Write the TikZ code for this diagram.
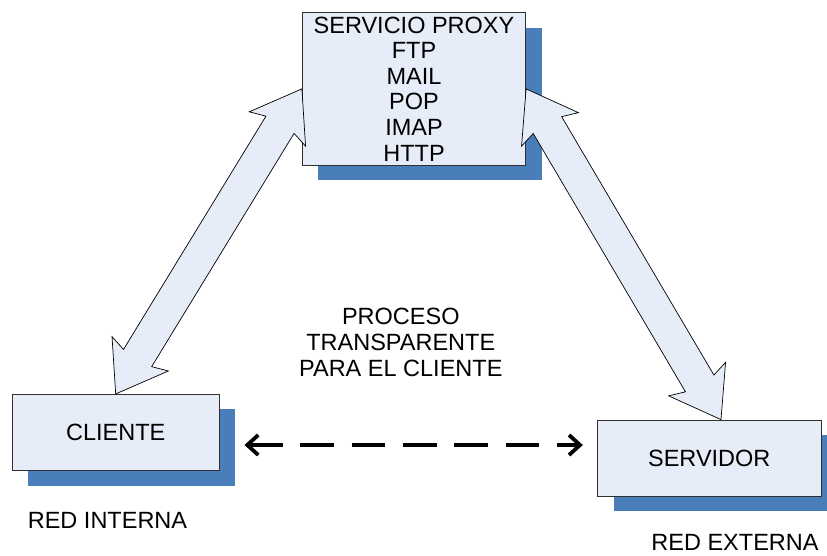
\documentclass[tikz,border=0pt]{standalone}
\usepackage{fontspec}
\setmainfont{Liberation Sans}
\usetikzlibrary{calc,shadows,arrows.meta}

\definecolor{boxfill}{HTML}{E7EDF8}
\definecolor{shadowblue}{HTML}{4A7EBB}
\definecolor{edgegray}{HTML}{303030}

\newcommand\labelfont{\fontsize{23.5}{25.6}\selectfont}

% Wide two-headed block arrow between two points
\newcommand\twowayblock[2]{%
  \coordinate (hA) at ($(#1)!47pt!(#2)$);
  \coordinate (nA) at ($(#1)!42pt!(#2)$);
  \coordinate (hB) at ($(#2)!47pt!(#1)$);
  \coordinate (nB) at ($(#2)!42pt!(#1)$);
  \draw[blockarrow] (#1)
    -- ($(hA)!33pt!90:(#2)$) -- ($(nA)!16.5pt!90:(#2)$)
    -- ($(nB)!16.5pt!-90:(#1)$) -- ($(hB)!33pt!-90:(#1)$)
    -- (#2)
    -- ($(hB)!33pt!90:(#1)$) -- ($(nB)!16.5pt!90:(#1)$)
    -- ($(nA)!16.5pt!-90:(#2)$) -- ($(hA)!33pt!-90:(#2)$)
    -- cycle;}

\begin{document}
\begin{tikzpicture}[x=1pt,y=-1pt,
  box/.style={draw=edgegray, line width=0.8pt, fill=boxfill, font=\labelfont,
    align=center, inner sep=0pt,
    drop shadow={shadow xshift=16pt, shadow yshift=-15pt, fill=shadowblue, opacity=1}},
  blockarrow/.style={draw=black, line width=0.7pt, fill=boxfill, line join=miter},
  dasharrow/.style={line width=3.8pt, dash pattern=on 33.5pt off 17.8pt,
    {Straight Barb[length=11pt,width=20pt]}-{Straight Barb[length=11pt,width=20pt]}},
  caption/.style={font=\labelfont, align=center, inner sep=0pt}]

\fill[white] (0,0) rectangle (827,555);
\useasboundingbox (0,0) rectangle (827,555);

% machines
\node[box, minimum width=223.4pt, minimum height=152.3pt] (px) at (414,88.9)
  {SERVICIO PROXY\\FTP\\MAIL\\POP\\IMAP\\HTTP};
\node[box, minimum width=206.7pt, minimum height=76.4pt] (cl) at (115.7,432.5) {CLIENTE};
\node[box, minimum width=223.3pt, minimum height=76pt] (srv) at (709.3,458) {SERVIDOR};

% traffic through the proxy
\coordinate (srvtip) at ([xshift=11.7pt]srv.north);
\twowayblock{px.west}{cl.north}
\twowayblock{px.east}{srvtip}

% apparent direct exchange
\draw[dasharrow] ([xshift=25pt,yshift=-12.5pt]cl.east) -- ([xshift=-14.4pt,yshift=13pt]srv.west);

% captions
\node[caption] (proc) at (400.8,342.5) {PROCESO\\TRANSPARENTE\\PARA EL CLIENTE};
\node[caption] (rin) at (107.5,520.5) {RED INTERNA};
\node[caption] (rex) at (735,542.5) {RED EXTERNA};
\end{tikzpicture}
\end{document}
